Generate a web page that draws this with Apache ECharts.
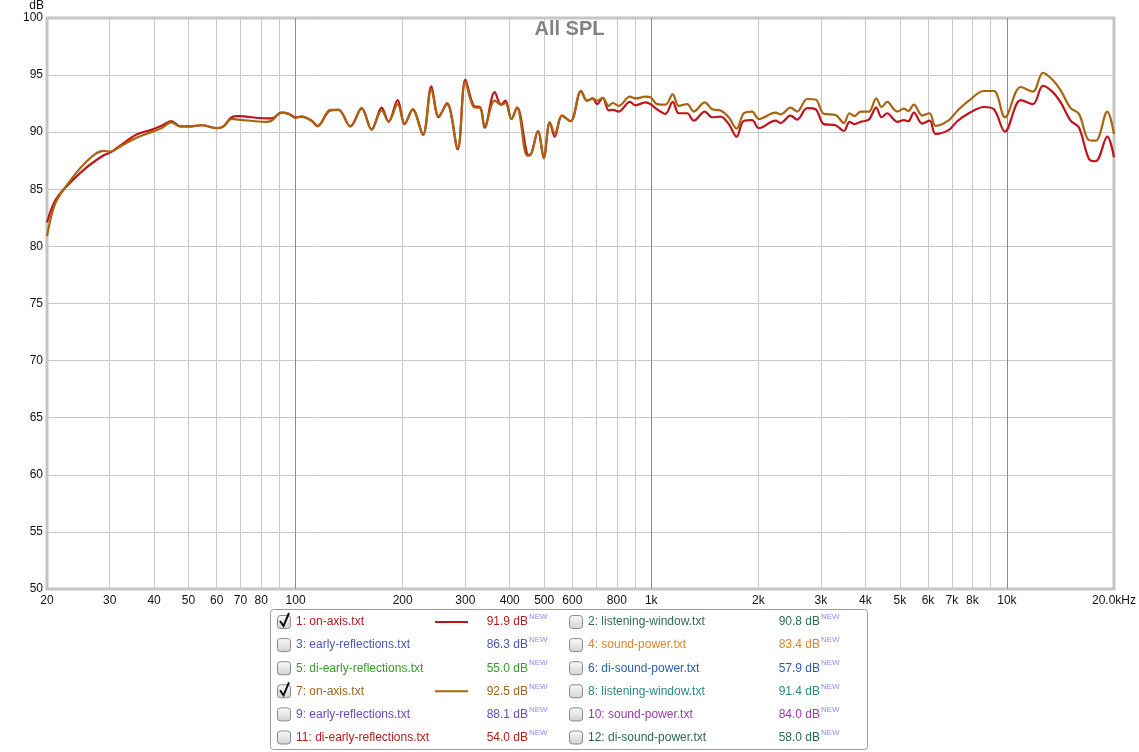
<!DOCTYPE html>
<html><head><meta charset="utf-8">
<script src="https://cdn.jsdelivr.net/npm/echarts@6/dist/echarts.min.js"></script>
<style>html,body{margin:0;padding:0;background:#fff}#c{width:1139px;height:752px}</style>
</head><body><div id="c"></div>
<script>
// ---- data ----
const freqs = [20,21,22.3,25.6,28.8,30.1,32.4,35.7,39.3,42.0,44.7,47.4,50,54.5,60,62.7,66.1,69.1,82.2,85.6,91.3,95.6,100,103.9,110.9,115.3,125.2,132.1,142.5,153.4,163.6,174.6,182.6,193.6,202.6,213.4,228.1,240.8,252.5,266.5,285.6,300.2,316.8,330.8,340.1,362.9,378,389,404.4,419.3,447.4,455.3,480.3,498.6,518.3,535.4,561.3,592.6,634.7,659.8,684.6,704,730.5,759.4,779.3,810.2,870.3,902.9,963.2,994.8,1038,1096,1149,1195,1261,1317,1414,1483,1565,1652,1737,1821,1921,2006,2236,2309,2464,2571,2744,2897,3057,3297,3479,3610,3729,3876,4091,4290,4442,4606,4810,4913,5132,5278,5475,5778,6062,6302,6869,7248,7819,8616,9192,9872,10930,11833,12627,13410,14164,15108,15940,17010,17765,19150,20000];
const onAxis1 = [82.1,83.9,85.0,86.8,87.95,88.2,88.9,89.8,90.2,90.55,90.97,90.5,90.5,90.6,90.35,90.5,91.3,91.4,91.2,91.2,91.7,91.6,91.3,91.35,91.0,90.55,91.9,91.95,90.5,92.1,90.2,92.15,90.9,92.8,90.7,92.0,89.75,94.0,91.3,92.55,88.5,94.6,92.3,92.15,90.4,93.5,92.4,92.75,91.15,92.15,88.1,88.0,90.1,87.8,90.85,89.6,91.45,90.95,93.6,92.75,92.95,92.45,93.0,91.9,91.95,91.8,92.65,92.35,92.6,92.45,92.0,91.6,92.65,91.65,91.65,91.0,91.8,91.3,91.35,90.7,89.6,91.0,91.05,90.35,91.0,90.8,91.45,91.1,92.1,92.0,90.7,90.6,90.1,90.9,90.7,90.9,91.1,92.15,91.3,91.65,91.1,90.9,91.05,90.95,91.7,90.75,91.0,89.85,90.2,90.95,91.65,92.2,92.0,90.05,92.8,92.45,94.05,93.55,92.6,91.0,90.4,87.65,87.45,89.6,87.8];
const onAxis7 = [80.9,83.6,85.0,87.3,88.35,88.3,88.8,89.5,90.0,90.35,90.85,90.5,90.5,90.6,90.35,90.5,91.15,91.1,90.9,91.0,91.7,91.6,91.25,91.35,91.0,90.5,91.95,91.95,90.5,92.05,90.25,91.9,90.95,92.45,90.75,92.0,89.8,93.75,91.4,92.45,88.6,94.4,92.2,92.1,90.5,92.75,92.4,92.55,91.15,92.15,87.95,87.95,90.1,87.7,90.85,89.9,91.45,90.95,93.6,92.75,92.95,92.75,93.0,92.3,92.55,92.3,93.1,92.95,93.1,93.05,92.45,92.4,93.3,92.3,92.45,91.8,92.6,92.0,91.9,91.3,90.3,91.65,91.8,91.15,91.7,91.55,92.15,91.8,92.9,92.85,91.6,91.5,90.8,91.65,91.4,91.8,91.8,92.95,92.2,92.65,92.0,91.8,92.05,91.85,92.4,91.45,91.65,90.55,91.05,91.85,92.75,93.6,93.6,91.3,93.95,93.55,95.2,94.6,93.65,92.1,91.6,89.3,89.25,91.8,89.85];
const xTickValues = [20,30,40,50,60,70,80,90,100,200,300,400,500,600,700,800,900,1000,2000,3000,4000,5000,6000,7000,8000,9000,10000,20000];
const xTickLabels = ['20','30','40','50','60','70','80','','100','200','300','400','500','600','','800','','1k','2k','3k','4k','5k','6k','7k','8k','','10k','20.0kHz'];
const xMajorValues = [100,1000,10000];
const legendNames = ['1: on-axis.txt','2: listening-window.txt','3: early-reflections.txt','4: sound-power.txt','5: di-early-reflections.txt','6: di-sound-power.txt','7: on-axis.txt','8: listening-window.txt','9: early-reflections.txt','10: sound-power.txt','11: di-early-reflections.txt','12: di-sound-power.txt'];
const legendValues = ['91.9 dB','90.8 dB','86.3 dB','83.4 dB','55.0 dB','57.9 dB','92.5 dB','91.4 dB','88.1 dB','84.0 dB','54.0 dB','58.0 dB'];
const legendChecked = [true,false,false,false,false,false,true,false,false,false,false,false];
const legendColors = ['#b01c1c','#2e6e52','#4b55b5','#e0842a','#3a9a2a','#2a5fa8','#a2631c','#2a8a80','#6a4abf','#9a3aa8','#b0201a','#2a6a4a'];
const lineColors = {0:'#c0141c',6:'#a8640f'};

// ---- chart ----
const chart = echarts.init(document.getElementById('c'), null, {renderer:'canvas'});
const FONT = 'Liberation Sans, Arial, sans-serif';
const graphics = [];
graphics.push({type:'rect', shape:{x:270.5,y:609.5,width:597,height:140,r:3}, style:{fill:'#fff',stroke:'#9a9a9a',lineWidth:1}, z:10});
legendNames.forEach((name,i)=>{
  const col = i%2, row = Math.floor(i/2);
  const cy = 622 + row*23.1;
  const cx = col===0 ? 270 : 562;
  graphics.push({type:'rect', shape:{x:cx+7.5,y:cy-6.5,width:13,height:13,r:3},
    style:{fill:new echarts.graphic.LinearGradient(0,0,0,1,[{offset:0,color:'#fbfbfb'},{offset:1,color:'#d2d2d2'}]),stroke:'#8a8a8a',lineWidth:1}, z:11});
  if (legendChecked[i]) {
    graphics.push({type:'polyline', shape:{points:[[cx+10,cy-1],[cx+13.5,cy+4],[cx+19,cy-9]]}, style:{stroke:'#111',lineWidth:2,fill:null}, z:12});
    graphics.push({type:'line', shape:{x1:cx+165,y1:cy,x2:cx+198,y2:cy}, style:{stroke:lineColors[i],lineWidth:2}, z:12});
  }
  graphics.push({type:'text', x:cx+26, y:cy, style:{text:name, fill:legendColors[i], font:'12px '+FONT, align:'left', verticalAlign:'middle'}, z:12});
  graphics.push({type:'text', x:cx+258, y:cy, style:{text:legendValues[i], fill:legendColors[i], font:'12px '+FONT, align:'right', verticalAlign:'middle'}, z:12});
  graphics.push({type:'text', x:cx+259, y:cy-5, style:{text:'NEW', fill:'#8c8cff', font:'8px '+FONT, align:'left', verticalAlign:'middle'}, z:12});
});

const option = {
  animation:false,
  backgroundColor:'#fff',
  title:{text:'All SPL', left:'center', top:14, textStyle:{fontSize:20, fontWeight:'bold', color:'#828282', fontFamily:FONT}},
  grid:{left:47, right:22, top:15, bottom:163, show:true, borderColor:'#c4c4c4', borderWidth:3, backgroundColor:'#fff'},
  xAxis:[{
    type:'log', logBase:10, min:20, max:20000,
    axisLine:{show:false}, axisTick:{show:false, customValues:xTickValues.filter(v=>xMajorValues.indexOf(v)<0 && v!==20 && v!==20000)},
    splitLine:{show:true, lineStyle:{color:'#c8c8c8', width:1}},
    axisLabel:{customValues:xTickValues, formatter:(v)=>{const k=xTickValues.findIndex(t=>Math.abs(t-v)/t<1e-6); return k>=0?xTickLabels[k]:'';}, color:'#111', fontSize:12, fontFamily:FONT, margin:6, showMinLabel:true, showMaxLabel:true, hideOverlap:false}
  },{
    type:'log', logBase:10, min:20, max:20000, gridIndex:0,
    axisLine:{show:false}, axisTick:{show:false, customValues:xMajorValues}, axisLabel:{show:false},
    splitLine:{show:true, lineStyle:{color:'#8c8c8c', width:1}}
  }],
  yAxis:{type:'value', min:50, max:100, interval:5, name:'dB', nameLocation:'end', nameGap:3,
    nameTextStyle:{color:'#111', fontSize:12, fontFamily:FONT, align:'right', padding:[0,3,0,0]},
    axisLine:{show:false}, axisTick:{show:false},
    splitLine:{lineStyle:{color:'#c8c8c8', width:1}},
    axisLabel:{color:'#111', fontSize:12, fontFamily:FONT, margin:4}},
  graphic:graphics,
  series:[
    {name:'1: on-axis.txt', type:'line', xAxisIndex:0, data:freqs.map((f,i)=>[f,onAxis1[i]]), showSymbol:false, smooth:0.35, lineStyle:{color:lineColors[0], width:2.2}, z:3},
    {name:'7: on-axis.txt', type:'line', xAxisIndex:0, data:freqs.map((f,i)=>[f,onAxis7[i]]), showSymbol:false, smooth:0.35, lineStyle:{color:lineColors[6], width:2.2}, z:4}
  ]
};
chart.setOption(option);
</script></body></html>
